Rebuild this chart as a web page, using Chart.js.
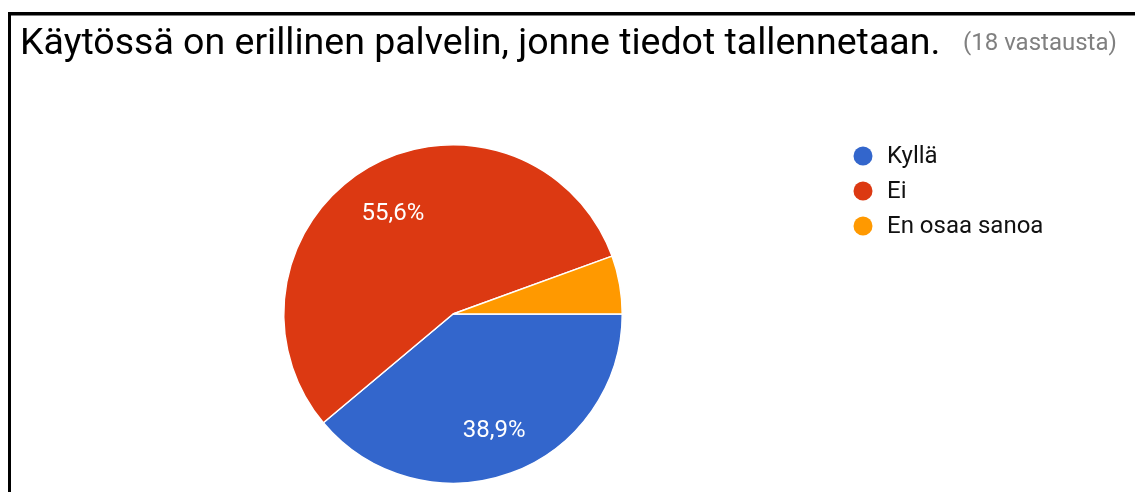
<!DOCTYPE html>
<html><head><meta charset="utf-8">
<script src="https://cdn.jsdelivr.net/npm/chart.js@4"></script>
<style>html,body{margin:0;padding:0;background:#fff;}#wrap{width:1135px;height:492px;position:relative;}</style>
</head><body><div id="wrap"><canvas id="c" width="1135" height="492"></canvas></div>
<script>
const titleText = "Käytössä on erillinen palvelin, jonne tiedot tallennetaan.";
const subtitleText = "(18 vastausta)";
const categories = ["Kyllä", "Ei", "En osaa sanoa"];
const counts = [7, 10, 1];
const percentLabels = ["38,9%", "55,6%", "5,6%"];
const colors = ["#3366cc", "#dc3912", "#ff9900"];

function fitFont(ctx, text, width, weight) {
  let s = 10;
  for (let f = 10; f < 60; f += 0.25) {
    ctx.font = (weight || "") + " " + f + "px Roboto";
    if (ctx.measureText(text).width > width) break;
    s = f;
  }
  return s;
}

const deco = {
  id: 'deco',
  afterDraw(chart) {
    const ctx = chart.ctx;
    ctx.save();
    ctx.fillStyle = '#000';
    ctx.fillRect(8, 12, 1127, 3.5);
    ctx.fillRect(8, 12, 3, 480);
    // title
    const ts = fitFont(ctx, titleText, 925);
    ctx.font = ts + "px Roboto";
    ctx.fillStyle = '#000';
    ctx.textBaseline = 'alphabetic';
    ctx.textAlign = 'left';
    ctx.fillText(titleText, 20, 54);
    const ss = fitFont(ctx, subtitleText, 155);
    ctx.font = ss + "px Roboto";
    ctx.fillStyle = '#808080';
    ctx.fillText(subtitleText, 963, 50);
    // legend
    const ls = fitFont(ctx, "En osaa sanoa", 158);
    ctx.font = ls + "px Roboto";
    ctx.textBaseline = 'middle';
    categories.forEach((c, i) => {
      const y = 156 + i * 35;
      ctx.beginPath();
      ctx.fillStyle = colors[i];
      ctx.arc(863, y, 9.5, 0, Math.PI * 2);
      ctx.fill();
      ctx.fillStyle = '#111';
      ctx.fillText(c, 887, y + 1);
    });
    // data labels
    const meta = chart.getDatasetMeta(0);
    ctx.font = ls + "px Roboto";
    ctx.fillStyle = '#fff';
    ctx.textAlign = 'center';
    meta.data.forEach((arc, i) => {
      const p = arc.getProps(['x', 'y', 'startAngle', 'endAngle', 'outerRadius']);
      if (p.endAngle - p.startAngle < 0.5) return;
      const mid = (p.startAngle + p.endAngle) / 2;
      const r = p.outerRadius * 0.71;
      ctx.fillText(percentLabels[i], p.x + Math.cos(mid) * r, p.y + Math.sin(mid) * r + 4);
    });
    ctx.restore();
  }
};

new Chart(document.getElementById('c'), {
  type: 'pie',
  data: {
    labels: categories,
    datasets: [{ data: counts, backgroundColor: colors, borderColor: '#fff', borderWidth: 1.5 }]
  },
  options: {
    responsive: false,
    animation: false,
    rotation: 90,
    layout: { padding: { left: 283, right: 512, top: 144, bottom: 8 } },
    plugins: { legend: { display: false }, title: { display: false }, tooltip: { enabled: false } }
  },
  plugins: [deco]
});
</script></body></html>
